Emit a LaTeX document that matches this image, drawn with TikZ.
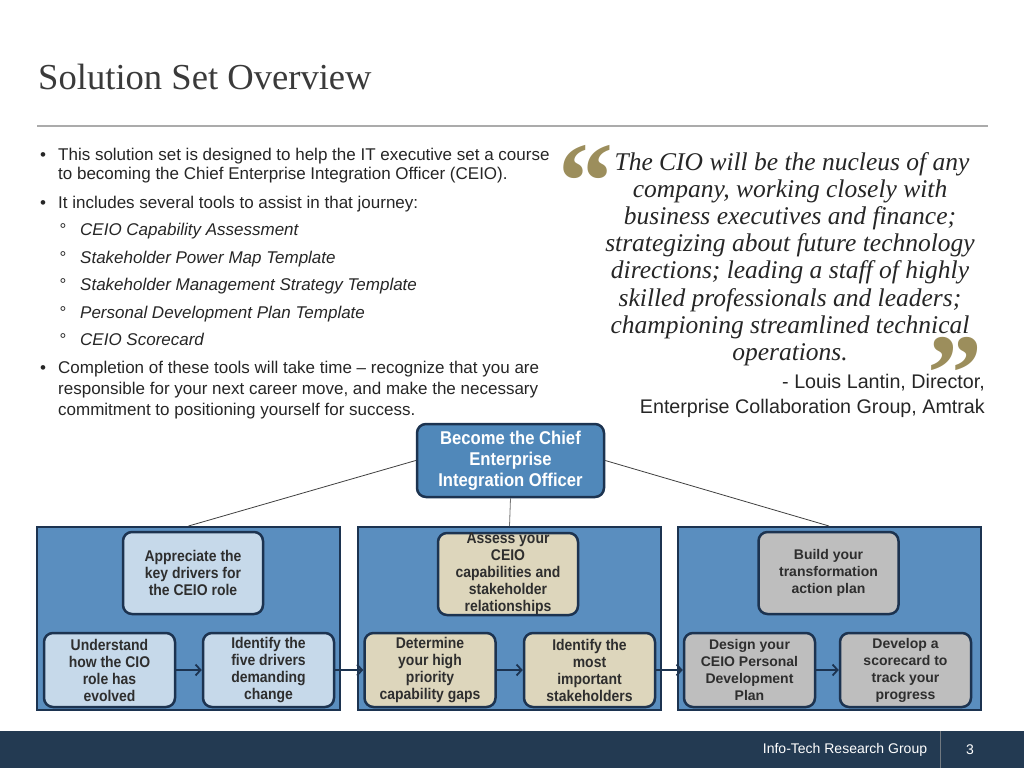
\documentclass[tikz,border=0pt]{standalone}
\usepackage{fontspec}
\setmainfont{Liberation Sans}
\newfontfamily\titlefont{Liberation Serif}
\newfontfamily\narrowfont[FakeStretch=0.9]{Liberation Sans}
\usetikzlibrary{arrows.meta}
\definecolor{titlegray}{HTML}{3A3A3A}
\definecolor{bodygray}{HTML}{262626}
\definecolor{rulegray}{HTML}{ABABAB}
\definecolor{quotegold}{HTML}{9C8E5C}
\definecolor{panelblue}{HTML}{5A8EBF}
\definecolor{topblue}{HTML}{5088BA}
\definecolor{navy}{HTML}{1C3350}
\definecolor{lightblue}{HTML}{C6D9EA}
\definecolor{tan}{HTML}{DDD6BC}
\definecolor{boxgray}{HTML}{BEBEBE}
\definecolor{footer}{HTML}{233A52}
\definecolor{nodetext}{HTML}{2E2E2E}
\tikzset{
  bodytxt/.style={anchor=base west, inner sep=0, text=bodygray, font=\fontsize{17}{20}\selectfont},
  subtxt/.style={anchor=base west, inner sep=0, text=bodygray, font=\fontsize{17}{20}\selectfont\itshape},
  bul/.style={anchor=base, inner sep=0, text=bodygray, font=\fontsize{17}{19}\selectfont},
  quotetxt/.style={anchor=base, inner sep=0, text=bodygray, font=\titlefont\itshape\fontsize{25.5}{27}\selectfont},
  attrtxt/.style={anchor=base east, inner sep=0, text=bodygray, font=\fontsize{19.7}{22}\selectfont},
  panel/.style={draw=navy, line width=2pt, fill=panelblue, minimum width=303pt, minimum height=183pt, inner sep=0},
  stepbox/.style={draw=navy, line width=2.5pt, rounded corners=9pt, align=center, inner sep=0, text=nodetext, font=\narrowfont\bfseries\fontsize{15.5}{17}\selectfont},
  topbox/.style={stepbox, minimum width=140pt, minimum height=82pt},
  botbox/.style={stepbox, minimum width=131pt, minimum height=74pt},
  widefont/.style={font=\bfseries\fontsize{14}{17}\selectfont},
  link/.style={draw=black!75, line width=0.8pt},
  flow/.style={draw=navy, line width=1.8pt, -{Straight Barb[length=5pt,width=11pt,line width=1.8pt]}}
}
\begin{document}
\begin{tikzpicture}[x=1pt,y=-1pt]
\useasboundingbox (0,0) rectangle (1024,768);
\fill[white] (0,0) rectangle (1024,768);
% title
\node[anchor=base west, inner sep=0, text=titlegray, font=\titlefont\fontsize{36.6}{40}\selectfont] (title) at (38,89) {Solution Set Overview};
\draw[rulegray, line width=2.5pt] (37,126) -- (988,126);
% bullets
\node[bul] (bu1) at (43,160) {\textbullet};
\node[bodytxt] (t1a) at (58,160) {This solution set is designed to help the IT executive set a course};
\node[bodytxt] (t1b) at (58,179) {to becoming the Chief Enterprise Integration Officer (CEIO).};
\node[bul] (bu2) at (43,208) {\textbullet};
\node[bodytxt] (t2) at (58,208) {It includes several tools to assist in that journey:};
\node[bul] (s1b) at (63,235) {\textdegree};
\node[subtxt] (s1) at (80,235) {CEIO Capability Assessment};
\node[bul] (s2b) at (63,263) {\textdegree};
\node[subtxt] (s2) at (80,263) {Stakeholder Power Map Template};
\node[bul] (s3b) at (63,290) {\textdegree};
\node[subtxt] (s3) at (80,290) {Stakeholder Management Strategy Template};
\node[bul] (s4b) at (63,318) {\textdegree};
\node[subtxt] (s4) at (80,318) {Personal Development Plan Template};
\node[bul] (s5b) at (63,345) {\textdegree};
\node[subtxt] (s5) at (80,345) {CEIO Scorecard};
\node[bul] (bu3) at (43,373) {\textbullet};
\node[bodytxt] (t3a) at (58,373) {Completion of these tools will take time -- recognize that you are};
\node[bodytxt] (t3b) at (58,394) {responsible for your next career move, and make the necessary};
\node[bodytxt] (t3c) at (58,415) {commitment to positioning yourself for success.};
% quote
\node[inner sep=0, text=quotegold, font=\titlefont\bfseries\fontsize{110}{110}\selectfont] (qo) at (586,182) {“};
\node[inner sep=0, text=quotegold, font=\titlefont\bfseries\fontsize{110}{110}\selectfont] (qc) at (955,374) {”};
\node[quotetxt] (q1) at (792,170) {The CIO will be the nucleus of any};
\node[quotetxt] (q2) at (790,197) {company, working closely with};
\node[quotetxt] (q3) at (790,224) {business executives and finance;};
\node[quotetxt] (q4) at (790,251) {strategizing about future technology};
\node[quotetxt] (q5) at (790,278) {directions; leading a staff of highly};
\node[quotetxt] (q6) at (790,306) {skilled professionals and leaders;};
\node[quotetxt] (q7) at (790,333) {championing streamlined technical};
\node[quotetxt] (q8) at (790,360) {operations.};
\node[attrtxt] (a1) at (985,388) {- Louis Lantin, Director,};
\node[attrtxt] (a2) at (985,413) {Enterprise Collaboration Group, Amtrak};
% diagram
\node[panel] (pl) at (188.5,618.5) {};
\node[panel] (pm) at (509.5,618.5) {};
\node[panel] (pr) at (829,618.5) {};
\node[stepbox, fill=topblue, text=white, minimum width=187pt, minimum height=73pt, font=\narrowfont\bfseries\fontsize{18.5}{21}\selectfont] (goal) at (510.5,460.5) {Become the Chief\\Enterprise\\Integration Officer};
\draw[link] (goal.west) -- (pl.north);
\draw[link] (goal.east) -- (pr.north);
\draw[link, draw=black!55] (goal.south) -- (pm.north);
\node[topbox, fill=lightblue] (l0) at (193,573) {Appreciate the\\key drivers for\\the CEIO role};
\node[botbox, fill=lightblue] (l1) at (109.5,670) {Understand\\how the CIO\\role has\\evolved};
\node[botbox, fill=lightblue] (l2) at (268.5,670) {Identify the\\five drivers\\demanding\\change};
\node[topbox, fill=tan] (m0) at (508,574) {Assess your\\CEIO\\capabilities and\\stakeholder\\relationships};
\node[botbox, fill=tan] (m1) at (430,670) {Determine\\your high\\priority\\capability gaps};
\node[botbox, fill=tan] (m2) at (589.5,670) {Identify the\\most\\important\\stakeholders};
\node[topbox, fill=boxgray, widefont] (r0) at (828.5,573) {Build your\\transformation\\action plan};
\node[botbox, fill=boxgray, widefont] (r1) at (749.5,670) {Design your\\CEIO Personal\\Development\\Plan};
\node[botbox, fill=boxgray, widefont] (r2) at (905.5,670) {Develop a\\scorecard to\\track your\\progress};
\draw[flow] (l1) -- (l2);
\draw[flow] (l2) -- (m1);
\draw[flow] (m1) -- (m2);
\draw[flow] (m2) -- (r1);
\draw[flow] (r1) -- (r2);
% footer
\fill[footer] (0,731) rectangle (1024,768);
\coordinate (sepT) at (940,731);
\coordinate (sepB) at (940,768);
\draw[black!45!footer!60!white, line width=0.8pt] (sepT) -- (sepB);
\node[inner sep=0, text=white, font=\fontsize{14}{16}\selectfont] (ft) at (845,750) {Info-Tech Research Group};
\node[inner sep=0, text=white, font=\fontsize{14}{16}\selectfont] (pg) at (970,750) {3};
\end{tikzpicture}
\end{document}
